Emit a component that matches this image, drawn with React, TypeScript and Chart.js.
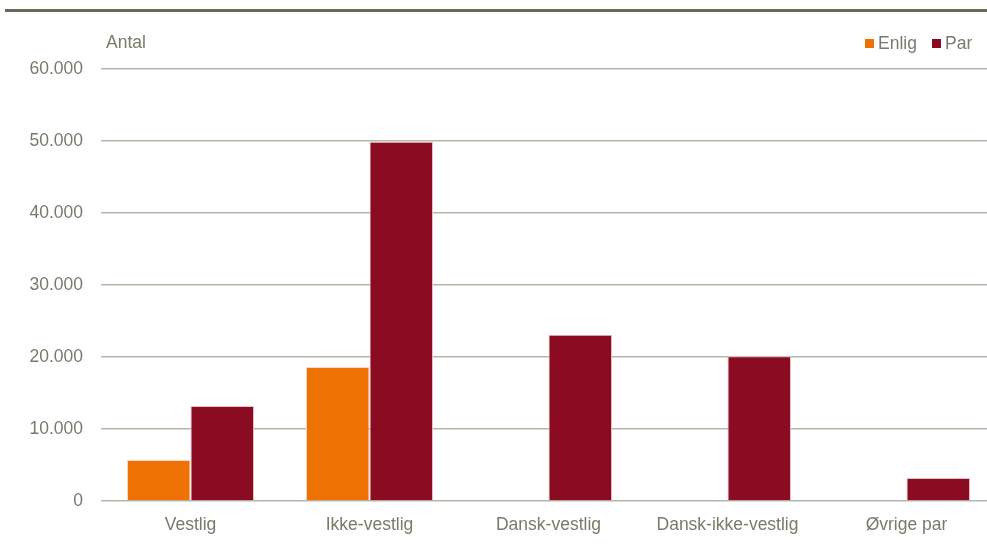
import React, { useEffect, useRef } from "react";
import { Chart, registerables } from "chart.js";

Chart.register(...registerables);

const categories = ["Vestlig", "Ikke-vestlig", "Dansk-vestlig", "Dansk-ikke-vestlig", "Øvrige par"];
const enligValues: (number | null)[] = [5700, 18600, null, null, null];
const parValues: number[] = [13200, 49900, 23100, 20100, 3200];
const seriesNames = ["Enlig", "Par"];
const seriesColors = ["#ee7203", "#8b0c22"];
const yMax = 60000;
const yStep = 10000;
const yTitle = "Antal";

const FONT = "'Liberation Sans', Arial, sans-serif";
const FSIZE = 17.5;
const TEXT = "#7a7a6a";

const overlayPlugin = {
  id: "overlay",
  afterDraw(chart: any) {
    const ctx = chart.ctx;
    const area = chart.chartArea;
    ctx.save();
    ctx.font = `${FSIZE}px ${FONT}`;
    ctx.fillStyle = TEXT;
    ctx.textBaseline = "middle";
    ctx.textAlign = "left";
    ctx.fillText(yTitle, area.left + 5, 43);
    const items = [
      { x: 865, name: seriesNames[0], color: seriesColors[0] },
      { x: 932, name: seriesNames[1], color: seriesColors[1] },
    ];
    for (const it of items) {
      ctx.fillStyle = it.color;
      ctx.fillRect(it.x, 39, 9, 9);
      ctx.fillStyle = TEXT;
      ctx.fillText(it.name, it.x + 13, 44);
    }
    ctx.restore();
  },
};

export default function App() {
  const ref = useRef<HTMLCanvasElement>(null);
  useEffect(() => {
    if (!ref.current) return;
    const chart = new Chart(ref.current, {
      type: "bar",
      data: {
        labels: categories,
        datasets: [
          {
            label: seriesNames[0],
            data: enligValues,
            backgroundColor: seriesColors[0],
            borderColor: "#f6d9c4",
            borderWidth: 1,
            categoryPercentage: 0.71,
            barPercentage: 1.0,
          },
          {
            label: seriesNames[1],
            data: parValues,
            backgroundColor: seriesColors[1],
            borderColor: "#e8c4c8",
            borderWidth: 1,
            categoryPercentage: 0.71,
            barPercentage: 1.0,
          },
        ],
      },
      options: {
        animation: false,
        responsive: false,
        maintainAspectRatio: false,
        layout: { padding: { top: 69, right: 4, left: 0, bottom: 0 } },
        plugins: {
          legend: { display: false },
          tooltip: { enabled: false },
        },
        scales: {
          x: {
            grid: { display: false, drawTicks: false },
            border: { display: false },
            ticks: {
              color: TEXT,
              font: { family: FONT, size: FSIZE },
              padding: 14,
            },
            afterFit: (s: any) => {
              s.height = 43;
            },
          },
          y: {
            min: 0,
            max: yMax,
            ticks: {
              stepSize: yStep,
              color: TEXT,
              font: { family: FONT, size: FSIZE },
              padding: 18,
              callback: (v: any) => Number(v).toLocaleString("da-DK"),
            },
            grid: { color: "#b7b5a7", lineWidth: 1.5, drawTicks: false },
            border: { display: false },
            afterFit: (s: any) => {
              s.width = 101;
            },
          },
        },
      },
      plugins: [overlayPlugin],
    });
    return () => chart.destroy();
  }, []);

  return (
    <div style={{ position: "fixed", left: 0, top: 0, width: 987, height: 544, overflow: "hidden", background: "#fff" }}>
      <div style={{ position: "absolute", left: 5, top: 9, width: 982, height: 3, background: "#6b6a5a" }} />
      <canvas ref={ref} width={1000} height={544} style={{ position: "absolute", left: 0, top: 0, width: 1000, height: 544 }} />
    </div>
  );
}
